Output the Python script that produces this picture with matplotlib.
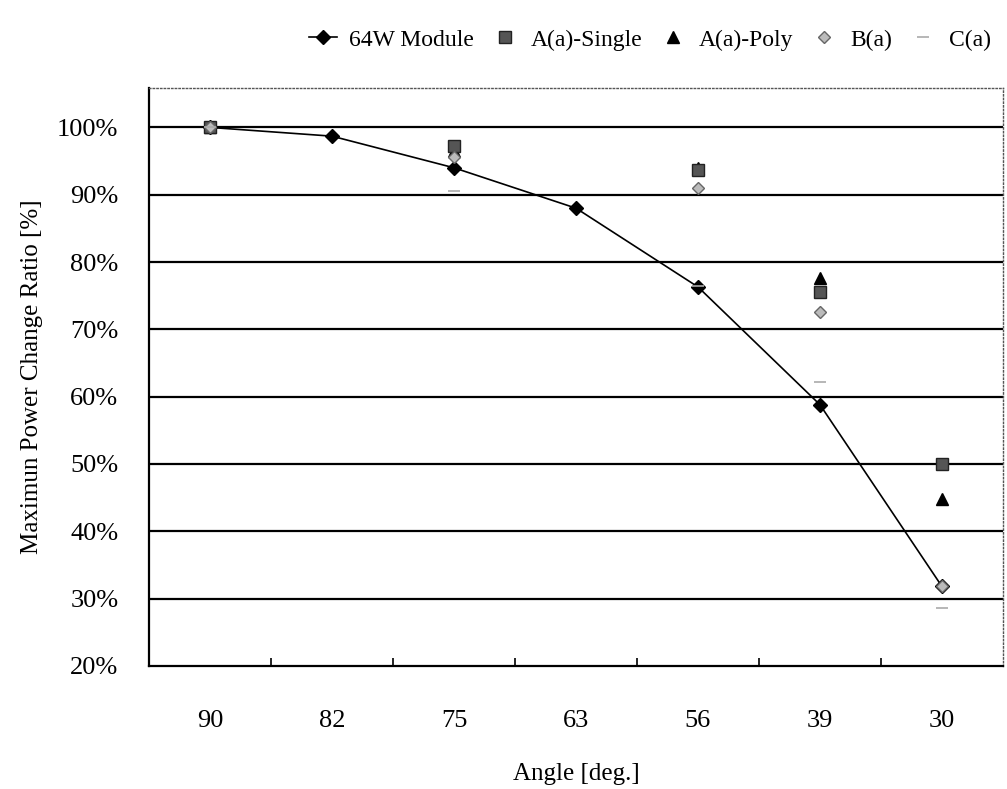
import numpy as np
import matplotlib.pyplot as plt
from matplotlib.ticker import FixedLocator, PercentFormatter

plt.rcParams["font.family"] = ["Liberation Serif", "DejaVu Serif"]

angles = ["90", "82", "75", "63", "56", "39", "30"]
nan = np.nan
module_64w = [1.000, 0.987, 0.940, 0.880, 0.763, 0.588, 0.318]
a_single = [1.000, nan, 0.972, nan, 0.937, 0.755, 0.500]
a_poly = [1.000, nan, 0.965, nan, 0.940, 0.776, 0.448]
b_a = [1.000, nan, 0.956, nan, 0.910, 0.726, 0.318]
c_a = [1.000, nan, 0.905, nan, 0.765, 0.622, 0.286]

x = np.arange(len(angles))

fig = plt.figure(figsize=(10.07, 7.89), dpi=100)
ax = fig.add_axes([0.148, 0.156, 0.848, 0.732])

for v in np.arange(0.3, 1.01, 0.1):
    ax.axhline(v, color="black", lw=1.6, zorder=1)

ax.plot(x, module_64w, color="black", lw=1.2, marker="D", ms=7,
        label="64W Module", zorder=3)
ax.plot(x, a_poly, ls="none", marker="^", ms=8, color="black",
        label="A(a)-Poly", zorder=4)
ax.plot(x, a_single, ls="none", marker="s", ms=8, color="#555555",
        mec="#222222", label="A(a)-Single", zorder=5)
ax.plot(x, b_a, ls="none", marker="D", ms=6, color="#bbbbbb",
        mec="#666666", label="B(a)", zorder=6)
ax.plot(x, c_a, ls="none", marker="_", ms=8, mew=1.2, color="#aaaaaa",
        label="C(a)", zorder=6)

ax.set_xlim(-0.5, len(angles) - 0.5)
ax.set_ylim(0.2, 1.058)
ax.set_yticks(np.arange(0.2, 1.01, 0.1))
ax.yaxis.set_major_formatter(PercentFormatter(1.0, decimals=0))
ax.set_xticks(x)
ax.set_xticklabels(angles)
ax.xaxis.set_minor_locator(FixedLocator(x[:-1] + 0.5))
ax.tick_params(axis="x", which="major", length=0, pad=32, labelsize=19)
ax.tick_params(axis="x", which="minor", direction="in", length=6, width=1.2)
ax.tick_params(axis="y", length=0, pad=22, labelsize=19)

for s in ["left", "bottom"]:
    ax.spines[s].set_linewidth(1.6)
for s in ["top", "right"]:
    ax.spines[s].set_linestyle(":")
    ax.spines[s].set_linewidth(1.0)
    ax.spines[s].set_color("#555555")

ax.set_xlabel("Angle [deg.]", fontsize=18, labelpad=22)
ax.set_ylabel("Maximun Power Change Ratio [%]", fontsize=18, labelpad=10)

handles, labels = ax.get_legend_handles_labels()
order = ["64W Module", "A(a)-Single", "A(a)-Poly", "B(a)", "C(a)"]
hmap = dict(zip(labels, handles))
fig.legend([hmap[k] for k in order], order, loc="upper right",
           bbox_to_anchor=(1.005, 0.99), ncol=5, frameon=False, fontsize=17,
           handlelength=1.2, columnspacing=0.7, handletextpad=0.5)

fig.savefig("out.png", dpi=100)
